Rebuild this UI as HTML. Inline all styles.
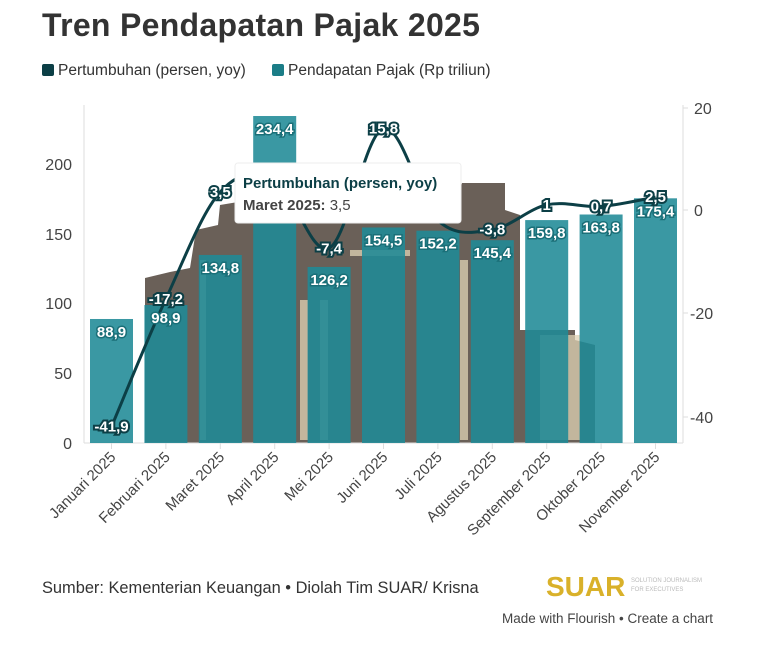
<!DOCTYPE html>
<html><head><meta charset="utf-8"><style>
body{margin:0;width:769px;height:646px;background:#fff;font-family:"Liberation Sans",sans-serif;overflow:hidden;position:relative}
.t{position:absolute;left:42px;top:7px;font-size:32px;font-weight:bold;color:#333;letter-spacing:0.3px}
.lg{position:absolute;top:62px;font-size:15.5px;color:#333}
.sq{display:inline-block;width:12px;height:12px;vertical-align:-1px;margin-right:4px;border-radius:2px}
</style></head><body>
<div class="t">Tren Pendapatan Pajak 2025</div>
<div class="lg" style="left:42px"><span class="sq" style="background:#0c3f46"></span>Pertumbuhan (persen, yoy)</div>
<div class="lg" style="left:272px"><span class="sq" style="background:#1b7d87"></span>Pendapatan Pajak (Rp triliun)</div>
<svg id="s" width="769" height="646" style="position:absolute;left:0;top:0" font-family="Liberation Sans, sans-serif">
<g>
<polygon points="145,443 145,278 170,272 190,268 196,230 218,225 220,205 250,200 255,190 460,190 462,183 505,183 505,210 520,215 520,330 575,330 575,340 595,345 595,443" fill="#6a6058"/>
<g fill="#e0d3b4" opacity="0.75">
<rect x="300" y="300" width="8" height="140"/><rect x="320" y="300" width="8" height="140"/><rect x="540" y="335" width="40" height="105"/><rect x="350" y="250" width="60" height="6"/><rect x="200" y="260" width="6" height="180"/><rect x="460" y="260" width="8" height="180"/>
</g>
</g>
<line x1="84" y1="105" x2="84" y2="443" stroke="#ddd"/>
<line x1="683" y1="105" x2="683" y2="443" stroke="#ddd"/>
<line x1="84" y1="443" x2="683" y2="443" stroke="#ddd"/>
<g font-size="16" fill="#444" text-anchor="end">
<text x="72" y="449">0</text><text x="72" y="379">50</text><text x="72" y="309">100</text><text x="72" y="240">150</text><text x="72" y="170">200</text>
</g>
<g font-size="16" fill="#444">
<text x="694" y="114">20</text><text x="694" y="216">0</text><text x="690" y="319">-20</text><text x="690" y="423">-40</text>
</g>
<g stroke="#ddd"><line x1="683" y1="108" x2="688" y2="108"/><line x1="683" y1="210" x2="688" y2="210"/><line x1="683" y1="313" x2="688" y2="313"/><line x1="683" y1="417" x2="688" y2="417"/></g>
<g id="bars"></g><g id="line"></g><g id="lab"></g><g id="xl"></g>
<rect x="235" y="163" width="226" height="60" rx="3" fill="#fff" stroke="#eee"/>
<text x="243" y="188" font-size="15" font-weight="bold" fill="#0c3f46">Pertumbuhan (persen, yoy)</text>
<text x="243" y="210" font-size="15" fill="#444"><tspan font-weight="bold">Maret 2025:</tspan> 3,5</text>
<text x="42" y="593" font-size="16.4" fill="#333">Sumber: Kementerian Keuangan • Diolah Tim SUAR/ Krisna</text>
<text x="546" y="596" font-size="28" font-weight="bold" fill="#d9b12a">SUAR</text>
<text x="631" y="582" font-size="6" fill="#bbb">SOLUTION JOURNALISM</text>
<text x="631" y="591" font-size="6" fill="#bbb">FOR EXECUTIVES</text>
<text x="502" y="623" font-size="13.5" fill="#444">Made with Flourish • Create a chart</text>
</svg>
<script>
var bars=[88.9,98.9,134.8,234.4,126.2,154.5,152.2,145.4,159.8,163.8,175.4];
var gr=[-41.9,-17.2,3.5,6,-7.4,15.8,-2,-3.8,1,0.7,2.5];
var months=["Januari 2025","Februari 2025","Maret 2025","April 2025","Mei 2025","Juni 2025","Juli 2025","Agustus 2025","September 2025","Oktober 2025","November 2025"];
var ns="http://www.w3.org/2000/svg";function el(t,a,p,tx){var e=document.createElementNS(ns,t);for(var k in a)e.setAttribute(k,a[k]);if(tx)e.textContent=tx;document.getElementById(p).appendChild(e);return e}
var cx=i=>111.5+i*54.4,by=v=>443-v*1.395,ly=v=>210-v*5.17;
bars.forEach((v,i)=>{el("rect",{x:cx(i)-21.5,y:by(v),width:43,height:443-by(v),fill:"#1f8a96","fill-opacity":0.88},"bars");
el("line",{x1:cx(i),y1:443,x2:cx(i),y2:449,stroke:"#ddd"},"bars");
var s=v.toFixed(1).replace(".",",");
el("text",{x:cx(i),y:by(v)+18,"font-size":15,"font-weight":"bold","text-anchor":"middle",fill:"#fff",stroke:"#1a6f78","stroke-width":3,"paint-order":"stroke"},"lab",s);
el("text",{x:0,y:0,"font-size":15,fill:"#444","text-anchor":"end",transform:"translate("+(cx(i)+5)+",458) rotate(-45)"},"xl",months[i]);});
var P=gr.map((v,i)=>[cx(i),ly(v)]);var d="M"+P[0];
for(var i=0;i<P.length-1;i++){var p0=P[Math.max(i-1,0)],p1=P[i],p2=P[i+1],p3=P[Math.min(i+2,P.length-1)];
d+=" C"+(p1[0]+(p2[0]-p0[0])/6)+","+(p1[1]+(p2[1]-p0[1])/6)+" "+(p2[0]-(p3[0]-p1[0])/6)+","+(p2[1]-(p3[1]-p1[1])/6)+" "+p2;}
el("path",{d:d,fill:"none",stroke:"#0c3f46","stroke-width":3},"line");
gr.forEach((v,i)=>{if(i==3||i==6)return;var s=String(v).replace(".",",");
el("text",{x:cx(i),y:ly(v)+5,"font-size":15,"font-weight":"bold","text-anchor":"middle",fill:"#fff",stroke:"#0c3f46","stroke-width":4,"paint-order":"stroke"},"lab",s);});
</script>
</body></html>
